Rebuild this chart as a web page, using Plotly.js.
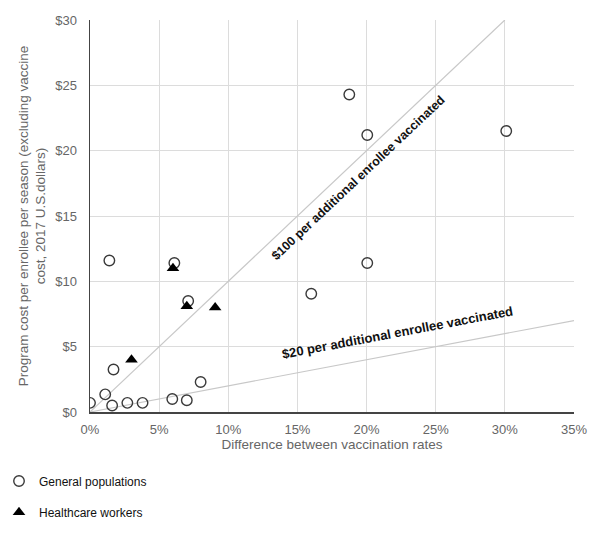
<!DOCTYPE html>
<html>
<head>
<meta charset="utf-8">
<script src="https://cdn.plot.ly/plotly-3.0.1.min.js"></script>
<style>html,body{margin:0;padding:0;background:#fff}#chart{width:601px;height:535px}</style>
</head>
<body>
<div id="chart"></div>
<script>
// Data (x: difference between vaccination rates, %, y: program cost per enrollee, $)
var generalX = [0.0, 1.1, 1.6, 2.7, 3.8, 5.95, 7.0, 8.0, 1.7, 1.4, 6.1, 7.1, 18.75, 20.05, 30.1, 20.05, 16.0];
var generalY = [0.7, 1.35, 0.5, 0.7, 0.7, 1.0, 0.9, 2.3, 3.25, 11.6, 11.4, 8.5, 24.3, 21.2, 21.5, 11.4, 9.05];
var hcwX = [6.0, 7.0, 9.05, 3.0];
var hcwY = [11.0, 8.1, 8.0, 4.0];
var line100X = [0, 30];
var line100Y = [0, 30];
var line20X = [0, 35];
var line20Y = [0, 7];
var xTicks = [0, 5, 10, 15, 20, 25, 30, 35];
var yTicks = [0, 5, 10, 15, 20, 25, 30];
var xTickText = xTicks.map(function (v) { return v + '%'; });
var yTickText = yTicks.map(function (v) { return '$' + v; });

var font = 'Liberation Sans, Arial, sans-serif';
var traces = [
  {x: line100X, y: line100Y, mode: 'lines', line: {color: '#c8c8c8', width: 1.2}, showlegend: false, hoverinfo: 'skip'},
  {x: line20X, y: line20Y, mode: 'lines', line: {color: '#c8c8c8', width: 1.2}, showlegend: false, hoverinfo: 'skip'},
  {x: generalX, y: generalY, mode: 'markers', name: 'General populations', legend: 'legend',
   marker: {symbol: 'circle-open', size: 10.5, color: '#3a3a3a', line: {width: 1.4, color: '#3a3a3a'}}},
  {x: hcwX, y: hcwY, mode: 'markers', name: 'Healthcare workers', legend: 'legend2',
   marker: {symbol: 'triangle-up', size: 11, color: '#000'}}
];

var layout = {
  width: 601, height: 535,
  margin: {l: 90, r: 27, t: 20, b: 123, autoexpand: false},
  paper_bgcolor: '#fff', plot_bgcolor: '#fff',
  font: {family: font, size: 12, color: '#666'},
  xaxis: {
    range: [0, 35], tickvals: xTicks, ticktext: xTickText, automargin: false,
    showgrid: true, gridcolor: '#dcdcdc', gridwidth: 1,
    showline: true, linecolor: '#444', linewidth: 1.5,
    zeroline: false, ticks: 'outside', ticklen: 5, tickcolor: 'rgba(0,0,0,0)',
    tickfont: {size: 13, color: '#666'},
    title: {text: 'Difference between vaccination rates', font: {size: 13.5, color: '#666'}, standoff: 3}
  },
  yaxis: {
    range: [0, 30], tickvals: yTicks, ticktext: yTickText, automargin: false,
    showgrid: true, gridcolor: '#dcdcdc', gridwidth: 1,
    showline: true, linecolor: '#444', linewidth: 1.5,
    zeroline: false, ticks: 'outside', ticklen: 9, tickcolor: 'rgba(0,0,0,0)',
    tickfont: {size: 13, color: '#666'},
    title: {text: 'Program cost per enrollee per season (excluding vaccine<br>cost, 2017 U.S.dollars)', font: {size: 13.5, color: '#666'}, standoff: 6}
  },
  legend: {x: -0.188, y: -0.139, xanchor: 'left', yanchor: 'top',
    font: {size: 12, color: '#111'}, bgcolor: 'rgba(0,0,0,0)'},
  legend2: {x: -0.188, y: -0.219, xanchor: 'left', yanchor: 'top',
    font: {size: 12, color: '#111'}, bgcolor: 'rgba(0,0,0,0)'},
  annotations: [
    {x: 19.4, y: 17.9, xref: 'x', yref: 'y', text: '<b>$100 per additional enrollee vaccinated</b>',
     showarrow: false, textangle: -43.4, font: {size: 12.5, color: '#111'}},
    {x: 22.25, y: 6.1, xref: 'x', yref: 'y', text: '<b>$20 per additional enrollee vaccinated</b>',
     showarrow: false, textangle: -10.7, font: {size: 13, color: '#111'}}
  ],
  showlegend: true
};

Plotly.newPlot('chart', traces, layout, {displayModeBar: false, staticPlot: true});
</script>
</body>
</html>
